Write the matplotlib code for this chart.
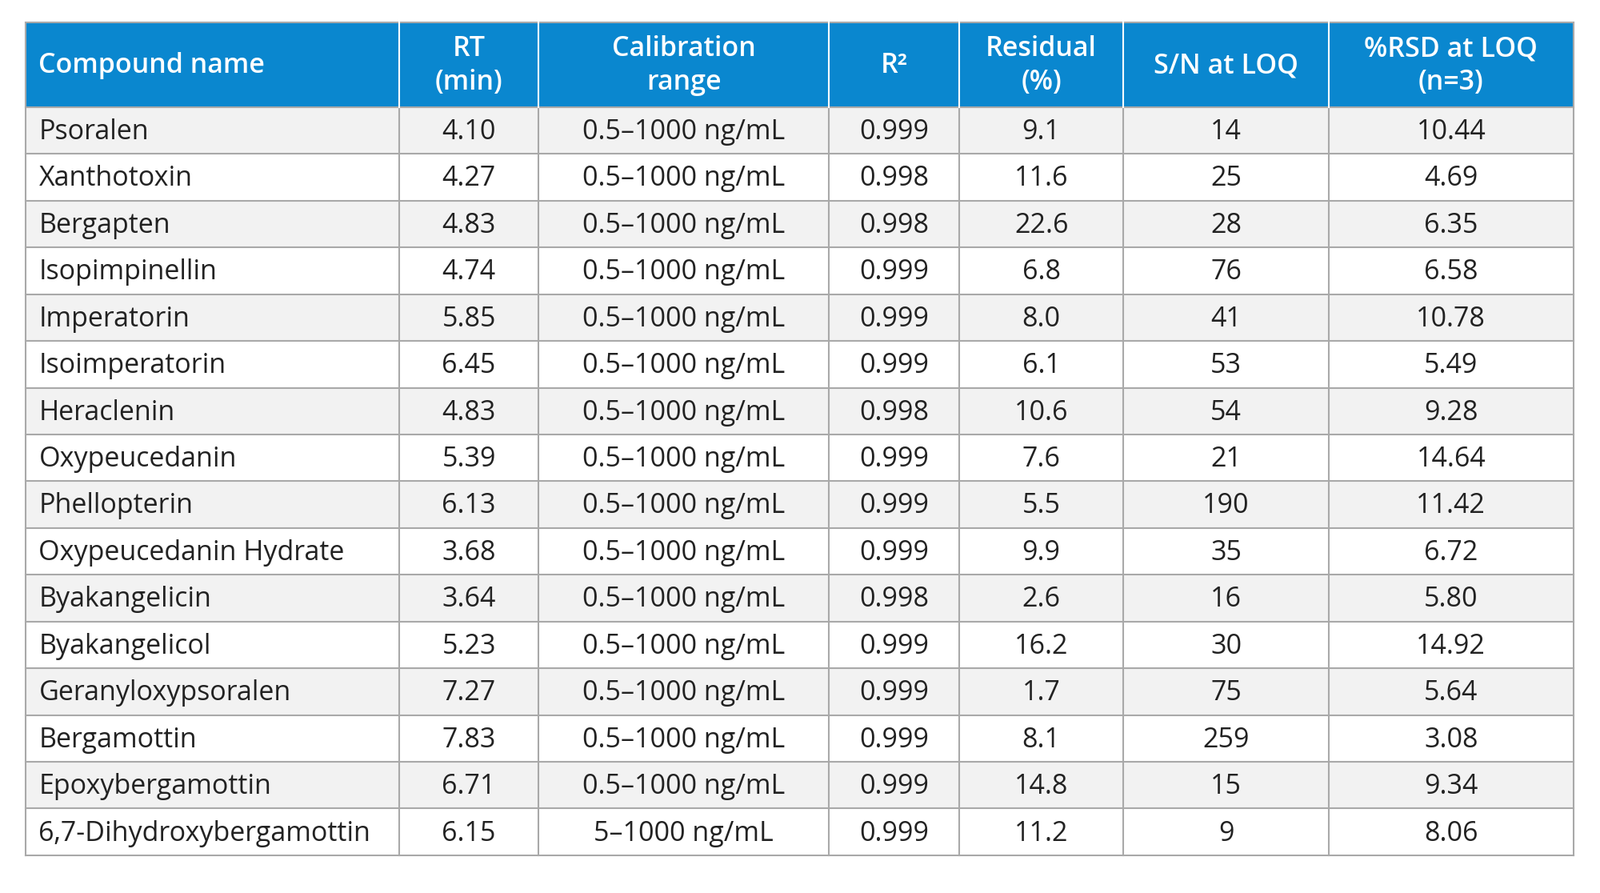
import matplotlib
matplotlib.use("Agg")
import matplotlib.pyplot as plt
from matplotlib.patches import Rectangle

headers = ["Compound name", "RT\n(min)", "Calibration\nrange", "R²", "Residual\n(%)", "S/N at LOQ", "%RSD at LOQ\n(n=3)"]
compounds = ["Psoralen", "Xanthotoxin", "Bergapten", "Isopimpinellin", "Imperatorin", "Isoimperatorin",
             "Heraclenin", "Oxypeucedanin", "Phellopterin", "Oxypeucedanin Hydrate", "Byakangelicin",
             "Byakangelicol", "Geranyloxypsoralen", "Bergamottin", "Epoxybergamottin", "6,7-Dihydroxybergamottin"]
rt = ["4.10", "4.27", "4.83", "4.74", "5.85", "6.45", "4.83", "5.39", "6.13", "3.68", "3.64", "5.23", "7.27", "7.83", "6.71", "6.15"]
cal_range = ["0.5–1000 ng/mL"] * 15 + ["5–1000 ng/mL"]
r2 = ["0.999", "0.998", "0.998", "0.999", "0.999", "0.999", "0.998", "0.999", "0.999", "0.999", "0.998", "0.999", "0.999", "0.999", "0.999", "0.999"]
residual = ["9.1", "11.6", "22.6", "6.8", "8.0", "6.1", "10.6", "7.6", "5.5", "9.9", "2.6", "16.2", "1.7", "8.1", "14.8", "11.2"]
sn = ["14", "25", "28", "76", "41", "53", "54", "21", "190", "35", "16", "30", "75", "259", "15", "9"]
rsd = ["10.44", "4.69", "6.35", "6.58", "10.78", "5.49", "9.28", "14.64", "11.42", "6.72", "5.80", "14.92", "5.64", "3.08", "9.34", "8.06"]

columns = [compounds, rt, cal_range, r2, residual, sn, rsd]
col_edges = [25, 391, 528, 812, 940, 1101, 1302, 1542]
top, header_bottom, bottom = 22, 105, 838

fig = plt.figure(figsize=(20, 11.16), dpi=100)
ax = fig.add_axes([0, 0, 1, 1])
ax.set_xlim(0, 1568)
ax.set_ylim(875, 0)
ax.axis("off")
font = "Open Sans"
fs = 24.5
blue = "#0a87cf"
grid = "#a9a9a9"

nrows = len(compounds)
rh = (bottom - header_bottom) / nrows
ax.add_patch(Rectangle((col_edges[0], top), col_edges[-1] - col_edges[0], header_bottom - top, color=blue, lw=0))
for i in range(nrows):
    y0 = header_bottom + i * rh
    yc = y0 + rh / 2 + 1.5
    ax.add_patch(Rectangle((col_edges[0], y0), col_edges[-1] - col_edges[0], rh,
                           facecolor="#f2f2f2" if i % 2 == 0 else "white", lw=0))
    for j, col in enumerate(columns):
        if j == 0:
            ax.text(col_edges[0] + 13, yc, col[i], ha="left", va="center", fontsize=fs, family=font, color="#222222")
        else:
            ax.text((col_edges[j] + col_edges[j + 1]) / 2, yc, col[i], ha="center", va="center", fontsize=fs, family=font, color="#222222")
for j, h in enumerate(headers):
    yc = (top + header_bottom) / 2 + 1
    if j == 0:
        ax.text(col_edges[0] + 13, yc, h, ha="left", va="center", fontsize=fs, family=font, color="white", weight="semibold")
    else:
        ax.text((col_edges[j] + col_edges[j + 1]) / 2, yc, h, ha="center", va="center", fontsize=fs, family=font,
                color="white", weight="semibold", linespacing=1.3)
for i in range(nrows + 1):
    y = header_bottom + i * rh
    ax.plot([col_edges[0], col_edges[-1]], [y, y], color=grid, lw=1.5)
ax.plot([col_edges[0], col_edges[-1]], [top, top], color=grid, lw=1.5)
for x in col_edges:
    ax.plot([x, x], [header_bottom, bottom], color=grid, lw=1.5)
    ax.plot([x, x], [top, header_bottom], color="white" if x not in (col_edges[0], col_edges[-1]) else grid, lw=1.5)

fig.savefig("out.png", dpi=100, facecolor="white")
